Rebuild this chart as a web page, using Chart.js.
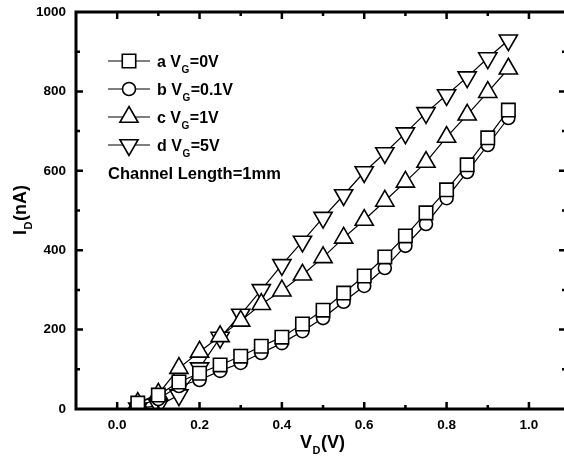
<!DOCTYPE html>
<html>
<head>
<meta charset="utf-8">
<script src="https://cdn.jsdelivr.net/npm/chart.js@4.4.1/dist/chart.umd.min.js"></script>
<style>
    html, body { margin: 0; padding: 0; background: #fff; overflow: hidden; }
    canvas { display: block; }
</style>
</head>
<body>
<canvas id="ivChart" width="570" height="457"></canvas>
<script>
// Drain voltage (V)
const vd = [0.05, 0.10, 0.15, 0.20, 0.25, 0.30, 0.35, 0.40, 0.45, 0.50,
            0.55, 0.60, 0.65, 0.70, 0.75, 0.80, 0.85, 0.90, 0.95];
// Drain current (nA) for each gate voltage
const idA = [15, 35, 68, 90, 111, 133, 158, 181, 214, 249, 292, 335, 383, 436, 494, 552, 615, 683, 753];
const idB = [8, 25, 58, 73, 96, 116, 141, 166, 196, 229, 270, 310, 355, 411, 466, 531, 597, 665, 733];
const idC = [15, 38, 103, 144, 183, 222, 264, 298, 338, 382, 431, 476, 524, 572, 622, 685, 741, 798, 857];
const idD = [2, 8, 35, 103, 180, 238, 300, 363, 422, 482, 539, 597, 645, 695, 746, 791, 836, 884, 929];

const seriesLetters = ['a', 'b', 'c', 'd'];
const gateLabels = ['=0V', '=0.1V', '=1V', '=5V'];
const xTicks = [0.0, 0.2, 0.4, 0.6, 0.8, 1.0];
const yTicks = [0, 200, 400, 600, 800, 1000];

const markers = [
    { style: 'rect', radius: 9.5, rotation: 0 },
    { style: 'circle', radius: 6.5, rotation: 0 },
    { style: 'triangle', radius: 10.5, rotation: 0 },
    { style: 'triangle', radius: 10.5, rotation: 180 }
];

const boldFont = '"Liberation Sans", Arial, sans-serif';

function makeSet(ys, i) {
    return {
        label: seriesLetters[i],
        data: vd.map((x, k) => ({ x: x, y: ys[k] })),
        borderColor: '#000',
        borderWidth: 1.2,
        pointStyle: markers[i].style,
        pointRadius: markers[i].radius,
        pointRotation: markers[i].rotation,
        pointBackgroundColor: '#fff',
        pointBorderColor: '#000',
        pointBorderWidth: 1.6,
        tension: 0
    };
}

// frame with inward ticks on all four sides, plus tick labels
const framePlugin = {
    id: 'frame',
    afterDraw(chart) {
        const ctx = chart.ctx;
        const a = chart.chartArea;
        const xs = chart.scales.x, ys = chart.scales.y;
        ctx.save();
        ctx.strokeStyle = '#000';
        ctx.lineWidth = 3;
        ctx.strokeRect(a.left, a.top, a.right - a.left, a.bottom - a.top);

        ctx.lineWidth = 2.5;
        ctx.beginPath();
        for (let v = 0; v <= 1.05; v += 0.1) {
            const major = Math.round(v * 10) % 2 === 0;
            const len = major ? 7 : 4;
            const px = xs.getPixelForValue(v);
            ctx.moveTo(px, a.bottom); ctx.lineTo(px, a.bottom - len);
            ctx.moveTo(px, a.top); ctx.lineTo(px, a.top + len);
        }
        for (let v = 100; v < 1000; v += 100) {
            const major = v % 200 === 0;
            const len = major ? 7 : 4;
            const py = ys.getPixelForValue(v);
            ctx.moveTo(a.left, py); ctx.lineTo(a.left + len, py);
            ctx.moveTo(a.right, py); ctx.lineTo(a.right - len, py);
        }
        ctx.stroke();

        ctx.fillStyle = '#000';
        ctx.font = 'bold 13.5px ' + boldFont;
        ctx.textAlign = 'center';
        ctx.textBaseline = 'middle';
        xTicks.forEach(v => ctx.fillText(v.toFixed(1), xs.getPixelForValue(v), a.bottom + 16));
        ctx.textAlign = 'right';
        yTicks.forEach(v => ctx.fillText(String(v), a.left - 10, ys.getPixelForValue(v)));
        ctx.restore();
    }
};

// draws text with a subscript part: main, sub, rest
function subText(ctx, x, y, main, sub, rest, size) {
    ctx.font = 'bold ' + size + 'px ' + boldFont;
    ctx.fillText(main, x, y);
    x += ctx.measureText(main).width;
    ctx.font = 'bold ' + Math.round(size * 0.6) + 'px ' + boldFont;
    ctx.fillText(sub, x + 0.5, y + size * 0.35);
    x += ctx.measureText(sub).width + 1;
    ctx.font = 'bold ' + size + 'px ' + boldFont;
    ctx.fillText(rest, x, y);
    return x + ctx.measureText(rest).width;
}

// legend block and axis titles
const labelPlugin = {
    id: 'labels',
    afterDraw(chart) {
        const ctx = chart.ctx;
        const a = chart.chartArea;
        ctx.save();
        ctx.fillStyle = '#000';
        ctx.textAlign = 'left';
        ctx.textBaseline = 'alphabetic';

        const rowY = [61, 89, 117, 145];
        rowY.forEach((y, i) => {
            ctx.strokeStyle = '#000';
            ctx.lineWidth = 1.2;
            ctx.beginPath();
            ctx.moveTo(108, y); ctx.lineTo(150, y);
            ctx.stroke();
            ctx.fillStyle = '#fff';
            ctx.lineWidth = 1.6;
            Chart.helpers.drawPoint(ctx, {
                pointStyle: markers[i].style,
                radius: markers[i].radius,
                rotation: markers[i].rotation,
                borderWidth: 1.6
            }, 129, y);
            ctx.fillStyle = '#000';
            subText(ctx, 157, y + 6, seriesLetters[i] + ' V', 'G', gateLabels[i], 16);
        });
        ctx.font = 'bold 16.5px ' + boldFont;
        ctx.fillText('Channel Length=1mm', 108, 179);

        // x title, centred on the visible part of the axis
        ctx.font = 'bold 18px ' + boldFont;
        const xw = ctx.measureText('V').width + 8 + ctx.measureText('(V)').width;
        subText(ctx, 322 - xw / 2, 448, 'V', 'D', '(V)', 18);

        // y title, rotated
        ctx.translate(26, (a.top + a.bottom) / 2);
        ctx.rotate(-Math.PI / 2);
        ctx.font = 'bold 18px ' + boldFont;
        const yw = ctx.measureText('I').width + 8 + ctx.measureText('(nA)').width;
        subText(ctx, -yw / 2, 0, 'I', 'D', '(nA)', 18);
        ctx.restore();
    }
};

const ivCtx = document.getElementById('ivChart').getContext('2d');
new Chart(ivCtx, {
    type: 'line',
    data: {
        datasets: [makeSet(idA, 0), makeSet(idB, 1), makeSet(idC, 2), makeSet(idD, 3)]
    },
    options: {
        responsive: false,
        animation: false,
        layout: { autoPadding: false, padding: { top: 12, right: 4, left: 0, bottom: 0 } },
        plugins: {
            legend: { display: false },
            tooltip: { enabled: false }
        },
        scales: {
            x: {
                type: 'linear',
                min: -0.1,
                max: 1.09,
                afterFit: (scale) => { scale.height = 48; },
                grid: { display: false, drawTicks: false },
                border: { display: false },
                ticks: { display: false }
            },
            y: {
                min: 0,
                max: 1000,
                afterFit: (scale) => { scale.width = 76; },
                grid: { display: false, drawTicks: false },
                border: { display: false },
                ticks: { display: false }
            }
        }
    },
    plugins: [framePlugin, labelPlugin]
});
</script>
</body>
</html>
